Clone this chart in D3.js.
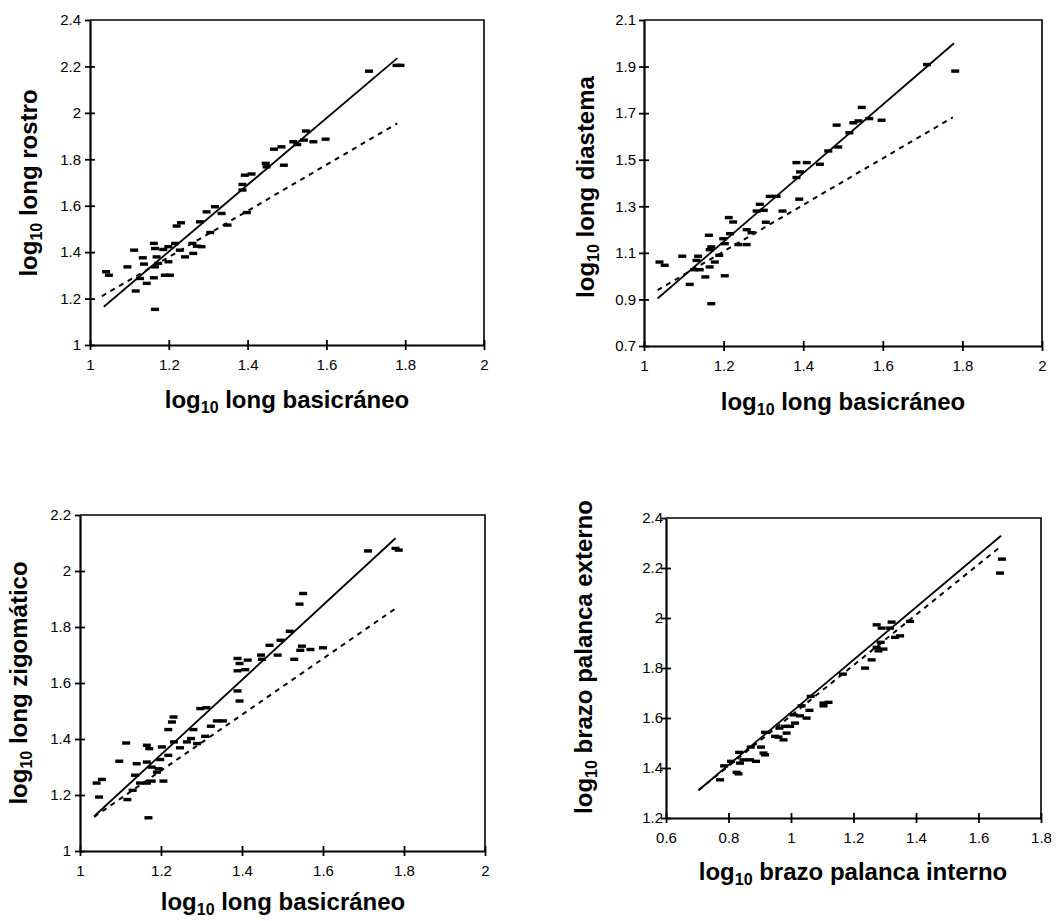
<!DOCTYPE html>
<html>
<head>
<meta charset="utf-8">
<script src="https://cdn.jsdelivr.net/npm/d3@7"></script>
<style>
  body { margin: 0; background: #fff; }
  svg { display: block; }
  text { font-family: "Liberation Sans", Arial, sans-serif; fill: #000; }
  .ttl { font-size: 24px; font-weight: bold; }
</style>
</head>
<body>
<script>
// tick values for each panel
var xTicksBasi = [1, 1.2, 1.4, 1.6, 1.8, 2];
var yTicksRostro = [1, 1.2, 1.4, 1.6, 1.8, 2, 2.2, 2.4];
var yTicksDiastema = [0.7, 0.9, 1.1, 1.3, 1.5, 1.7, 1.9, 2.1];
var yTicksZigo = [1, 1.2, 1.4, 1.6, 1.8, 2, 2.2];
var xTicksPalanca = [0.6, 0.8, 1, 1.2, 1.4, 1.6, 1.8];
var yTicksPalanca = [1.2, 1.4, 1.6, 1.8, 2, 2.2, 2.4];

// points [x, y]
var rostroPts = [
  [1.041,1.316],[1.048,1.301],[1.112,1.409],[1.095,1.337],[1.116,1.233],[1.134,1.376],
  [1.137,1.349],[1.127,1.287],[1.144,1.266],[1.162,1.438],[1.165,1.416],[1.162,1.29],
  [1.165,1.154],[1.169,1.38],[1.173,1.352],[1.165,1.337],[1.186,1.412],[1.199,1.424],
  [1.19,1.301],[1.203,1.301],[1.199,1.359],[1.216,1.438],[1.22,1.513],[1.231,1.527],
  [1.228,1.409],[1.241,1.38],[1.262,1.395],[1.26,1.438],[1.271,1.426],[1.283,1.424],
  [1.279,1.531],[1.296,1.574],[1.317,1.596],[1.334,1.567],[1.305,1.485],[1.349,1.517],
  [1.387,1.668],[1.387,1.692],[1.393,1.732],[1.41,1.737],[1.398,1.571],[1.446,1.783],
  [1.448,1.768],[1.467,1.844],[1.486,1.854],[1.492,1.775],[1.516,1.876],[1.526,1.864],
  [1.543,1.883],[1.548,1.922],[1.567,1.876],[1.598,1.887],[1.708,2.18],[1.778,2.205],
  [1.788,2.205]
];
var diastemaPts = [
  [1.039,1.061],[1.052,1.047],[1.096,1.086],[1.115,0.965],[1.132,1.068],[1.136,1.086],
  [1.126,1.028],[1.14,1.028],[1.154,0.997],[1.163,1.176],[1.165,1.114],[1.169,1.126],
  [1.169,0.882],[1.165,1.04],[1.178,1.061],[1.189,1.09],[1.199,1.161],[1.203,1.14],
  [1.203,1.002],[1.216,1.183],[1.213,1.252],[1.224,1.233],[1.237,1.136],[1.258,1.136],
  [1.258,1.2],[1.27,1.187],[1.283,1.28],[1.291,1.309],[1.301,1.283],[1.306,1.232],
  [1.316,1.343],[1.333,1.343],[1.348,1.28],[1.383,1.424],[1.39,1.331],[1.383,1.488],
  [1.409,1.488],[1.392,1.448],[1.442,1.481],[1.463,1.538],[1.484,1.649],[1.488,1.555],
  [1.516,1.616],[1.526,1.659],[1.539,1.667],[1.547,1.725],[1.566,1.677],[1.597,1.67],
  [1.711,1.909],[1.782,1.881]
];
var zigoPts = [
  [1.041,1.243],[1.054,1.256],[1.047,1.193],[1.097,1.321],[1.114,1.386],[1.117,1.184],
  [1.13,1.217],[1.136,1.271],[1.14,1.312],[1.148,1.243],[1.165,1.243],[1.165,1.378],
  [1.171,1.366],[1.165,1.318],[1.169,1.119],[1.177,1.3],[1.177,1.25],[1.19,1.282],
  [1.194,1.294],[1.202,1.372],[1.198,1.327],[1.206,1.25],[1.218,1.434],[1.218,1.342],
  [1.231,1.479],[1.227,1.461],[1.232,1.39],[1.247,1.369],[1.264,1.39],[1.274,1.402],
  [1.28,1.434],[1.289,1.384],[1.297,1.509],[1.312,1.512],[1.309,1.41],[1.323,1.446],
  [1.338,1.465],[1.353,1.465],[1.389,1.688],[1.389,1.644],[1.389,1.572],[1.394,1.67],
  [1.394,1.536],[1.408,1.648],[1.414,1.682],[1.447,1.7],[1.449,1.685],[1.468,1.735],
  [1.488,1.7],[1.495,1.753],[1.518,1.785],[1.529,1.685],[1.542,1.882],[1.551,1.92],
  [1.544,1.717],[1.548,1.732],[1.569,1.72],[1.6,1.726],[1.711,2.072],[1.779,2.081],
  [1.787,2.075]
];
var palancaPts = [
  [0.773,1.353],[0.786,1.409],[0.808,1.427],[0.826,1.383],[0.832,1.377],[0.834,1.463],
  [0.837,1.42],[0.848,1.433],[0.869,1.433],[0.871,1.484],[0.888,1.427],[0.904,1.484],
  [0.912,1.46],[0.917,1.453],[0.917,1.543],[0.949,1.527],[0.96,1.524],[0.963,1.56],
  [0.976,1.513],[0.981,1.567],[0.986,1.54],[0.997,1.567],[1.008,1.613],[1.013,1.58],
  [1.029,1.609],[1.034,1.649],[1.05,1.6],[1.059,1.631],[1.063,1.687],[1.104,1.66],
  [1.12,1.663],[1.104,1.649],[1.166,1.776],[1.237,1.8],[1.258,1.833],[1.274,1.883],
  [1.28,1.869],[1.287,1.903],[1.296,1.876],[1.274,1.973],[1.29,1.96],[1.322,1.984],
  [1.317,1.96],[1.333,1.923],[1.349,1.929],[1.381,1.987],[1.669,2.18],[1.675,2.236]
];

// fitted lines [[x0,y0],[x1,y1]]
var rostroSolid = [[1.035,1.165],[1.78,2.236]];
var rostroDash = [[1.03,1.21],[1.78,1.955]];
var diastemaSolid = [[1.034,0.904],[1.779,2.0]];
var diastemaDash = [[1.034,0.94],[1.776,1.682]];
var zigoSolid = [[1.035,1.124],[1.779,2.117]];
var zigoDash = [[1.035,1.122],[1.777,1.864]];
var palancaSolid = [[0.704,1.311],[1.672,2.329]];
var palancaDash = [[0.704,1.311],[1.669,2.284]];

var W = 1064, H = 921;
var svg = d3.select("body").append("svg").attr("width", W).attr("height", H);

var panels = [
  { x0: 90, x1: 484, y0: 345, y1: 20, xd: [1, 2], yd: [1, 2.4], xt: xTicksBasi, yt: yTicksRostro,
    pts: rostroPts, solid: rostroSolid, dash: rostroDash, ylabGap: 4,
    xTitle: ["log", "10", " long basicráneo"], xtPos: [287, 408],
    yTitle: ["log", "10", " long rostro"], ytPos: [37, 183] },
  { x0: 644, x1: 1042, y0: 346, y1: 20, xd: [1, 2], yd: [0.7, 2.1], xt: xTicksBasi, yt: yTicksDiastema,
    pts: diastemaPts, solid: diastemaSolid, dash: diastemaDash, ylabGap: 3,
    xTitle: ["log", "10", " long basicráneo"], xtPos: [843, 410],
    yTitle: ["log", "10", " long diastema"], ytPos: [594, 187] },
  { x0: 80, x1: 485, y0: 851, y1: 515, xd: [1, 2], yd: [1, 2.2], xt: xTicksBasi, yt: yTicksZigo,
    pts: zigoPts, solid: zigoSolid, dash: zigoDash, ylabGap: 4,
    xTitle: ["log", "10", " long basicráneo"], xtPos: [283, 910],
    yTitle: ["log", "10", " long zigomático"], ytPos: [27, 683] },
  { x0: 666, x1: 1041, y0: 818, y1: 518, xd: [0.6, 1.8], yd: [1.2, 2.4], xt: xTicksPalanca, yt: yTicksPalanca,
    pts: palancaPts, solid: palancaSolid, dash: palancaDash, ylabGap: -2,
    xTitle: ["log", "10", " brazo palanca interno"], xtPos: [853, 880],
    yTitle: ["log", "10", " brazo palanca externo"], ytPos: [592, 657] }
];

function fmt(d) { return String(+d.toFixed(1)); }

function addTitle(g, parts) {
  var t = g.append("text").attr("class", "ttl").attr("text-anchor", "middle");
  t.append("tspan").text(parts[0]);
  t.append("tspan").attr("dy", 5).style("font-size", "16px").text(parts[1]);
  t.append("tspan").attr("dy", -5).text(parts[2]);
  return t;
}

panels.forEach(function (p) {
  var x = d3.scaleLinear().domain(p.xd).range([p.x0, p.x1]);
  var y = d3.scaleLinear().domain(p.yd).range([p.y0, p.y1]);
  var g = svg.append("g");

  // frame top and right
  g.append("path")
    .attr("d", "M" + p.x0 + "," + p.y1 + "H" + p.x1 + "V" + p.y0)
    .attr("fill", "none").attr("stroke", "#000").attr("stroke-width", 1.6);

  var ax = g.append("g").attr("transform", "translate(0," + p.y0 + ")")
    .call(d3.axisBottom(x).tickValues(p.xt).tickFormat(fmt).tickSize(5).tickSizeOuter(0).tickPadding(9));
  ax.selectAll(".tick line").attr("y1", -5);
  var ay = g.append("g").attr("transform", "translate(" + p.x0 + ",0)")
    .call(d3.axisLeft(y).tickValues(p.yt).tickFormat(fmt).tickSize(5).tickSizeOuter(0).tickPadding(p.ylabGap));
  ay.selectAll(".tick line").attr("x1", function (d) { return d === p.yd[1] ? 0 : 5; });

  [ax, ay].forEach(function (a) {
    a.attr("font-size", null).attr("font-family", null);
    a.select(".domain").attr("stroke-width", 2.2);
    a.selectAll(".tick line").attr("stroke-width", 1.8);
    a.selectAll(".tick text")
      .style("font-family", "'Liberation Sans', Arial, sans-serif")
      .style("font-size", "15px")
      .attr("fill", "#000");
  });

  // fitted lines
  var line = d3.line().x(function (d) { return x(d[0]); }).y(function (d) { return y(d[1]); });
  g.append("path").datum(p.solid).attr("d", line)
    .attr("fill", "none").attr("stroke", "#000").attr("stroke-width", 1.8);
  g.append("path").datum(p.dash).attr("d", line)
    .attr("fill", "none").attr("stroke", "#000").attr("stroke-width", 2)
    .attr("stroke-dasharray", "5,5");

  // points as short bars
  g.selectAll("rect.pt").data(p.pts).enter().append("rect")
    .attr("class", "pt")
    .attr("x", function (d) { return x(d[0]) - 4; })
    .attr("y", function (d) { return y(d[1]) - 1.6; })
    .attr("width", 8).attr("height", 3.4)
    .attr("fill", "#000");

  addTitle(g, p.xTitle).attr("x", p.xtPos[0]).attr("y", p.xtPos[1]);
  addTitle(g, p.yTitle)
    .attr("transform", "translate(" + p.ytPos[0] + "," + p.ytPos[1] + ") rotate(-90)");
});
</script>
</body>
</html>
